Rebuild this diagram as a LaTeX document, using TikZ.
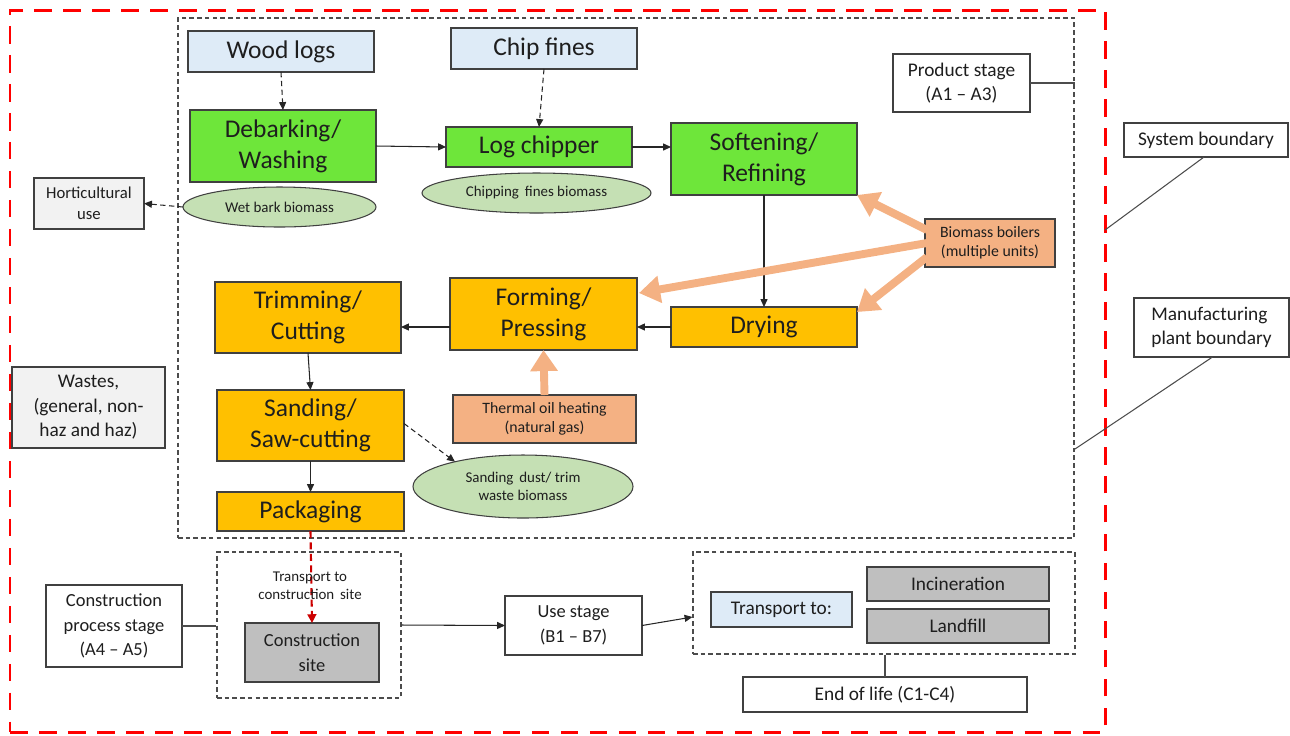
\documentclass[tikz,border=0pt]{standalone}
\usepackage{fontspec}
\setmainfont{Carlito}
\usetikzlibrary{arrows.meta,fit,shapes.geometric,calc}
\definecolor{lblue}{HTML}{DEEBF7}
\definecolor{pgreen}{HTML}{6EE63A}
\definecolor{porange}{HTML}{FFC000}
\definecolor{salmon}{HTML}{F4B183}
\definecolor{egreen}{HTML}{C5E0B4}
\definecolor{mgray}{HTML}{BFBFBF}
\definecolor{lgray}{HTML}{F2F2F2}
\definecolor{txt}{HTML}{1E1E1E}
% \pb{name}{x1}{y1}{x2}{y2}{style}{text}
\newcommand\pb[7]{\node[#6, minimum width={(#4-#2)*0.02cm}, minimum height={(#5-#3)*0.02cm}] (#1) at ({(#2+#4)/2},{(#3+#5)/2}) {#7};}
\begin{document}
\begin{tikzpicture}[x=0.02cm,y=-0.02cm,
  every node/.style={text=txt},
  box/.style={draw=black!75, line width=0.7pt, inner sep=0pt, outer sep=0pt, align=center},
  ell/.style={ellipse, draw=black!75, line width=0.6pt, fill=egreen, inner sep=0pt, outer sep=0pt, align=center, font=\fontsize{8.5}{10}\selectfont},
  big/.style={font=\fontsize{14.5}{17.5}\selectfont},
  med/.style={font=\fontsize{11}{14}\selectfont},
  sml/.style={font=\fontsize{9}{11}\selectfont},
  bot/.style={font=\fontsize{10.5}{14}\selectfont},
  dbox/.style={draw=black!70, line width=0.6pt, dash pattern=on 2.6pt off 1.8pt},
  conn/.style={draw=black!85, line width=0.6pt, -{Triangle[length=4.5pt,width=4pt]}},
  dconn/.style={conn, dash pattern=on 3pt off 2pt},
  plain/.style={draw=black!70, line width=0.6pt},
  heat/.style={draw=salmon, line width=4.5pt, -{Triangle[length=12pt,width=15pt]}}
]
\useasboundingbox (0,0) rectangle (1290,735);

% boundaries
\node[fit={(10,10)(1105,732)}, inner sep=0pt, draw=red, line width=1.7pt, dash pattern=on 10pt off 6.5pt] (redb) {};
\node[fit={(178,18)(1074,538)}, inner sep=0pt, dbox] (pbox) {};
\node[fit={(217,552)(401,698)}, inner sep=0pt, dbox] (cbox) {};
\node[fit={(693,552)(1075,654)}, inner sep=0pt, dbox] (ebox) {};

% top inputs
\pb{wood}{188}{31}{374}{72}{box, fill=lblue, big}{Wood logs}
\pb{chip}{451}{28}{637}{69}{box, fill=lblue, big}{Chip fines}

% green processes
\pb{deb}{190}{110}{376}{182}{box, fill=pgreen, big}{Debarking/\\Washing}
\pb{logc}{446}{127}{632}{167}{box, fill=pgreen, big}{Log chipper}
\pb{soft}{671}{123}{857}{195}{box, fill=pgreen, big}{Softening/\\Refining}

% ellipses
\pb{wet}{183}{187}{376}{227}{ell}{Wet bark biomass}
\pb{cfb}{422}{173}{651}{213}{ell}{Chipping\, fines biomass}
\pb{sdb}{413}{455}{633}{518}{ell}{Sanding\, dust/ trim\\waste biomass}

% side boxes
\pb{hort}{34}{178}{144}{229}{box, fill=lgray, font=\fontsize{9.5}{12}\selectfont}{Horticultural\\use}
\pb{waste}{12}{367}{165}{448}{box, fill=lgray, med}{Wastes,\\(general, non-\\haz and haz)}
\pb{boil}{925}{219}{1055}{267}{box, fill=salmon, sml}{Biomass boilers\\(multiple units)}

% orange processes
\pb{trim}{215}{282}{401}{353}{box, fill=porange, big}{Trimming/\\Cutting}
\pb{form}{450}{278}{637}{350}{box, fill=porange, big}{Forming/\\Pressing}
\pb{dry}{671}{307}{857}{347}{box, fill=porange, big}{Drying}
\pb{sand}{217}{390}{404}{461}{box, fill=porange, big}{Sanding/\\Saw-cutting}
\pb{pack}{217}{492}{404}{531}{box, fill=porange, big}{Packaging}
\pb{therm}{453}{395}{636}{443}{box, fill=salmon, sml}{Thermal oil heating\\(natural gas)}

% labels
\pb{ps}{893}{54}{1030}{112}{box, fill=white, med}{Product stage\\(A1 – A3)}
\pb{sb}{1124}{123}{1288}{157}{box, fill=white, med}{System boundary}
\pb{mp}{1134}{298}{1289}{357}{box, fill=white, med, align=left}{Manufacturing\\plant boundary}

% bottom
\pb{cps}{46}{585}{182}{667}{box, fill=white, bot}{Construction\\process stage\\(A4 – A5)}
\pb{csite}{245}{623}{379}{682}{box, fill=mgray, bot}{Construction\\site}
\pb{use}{505}{596}{642}{655}{box, fill=white, bot}{Use stage\\(B1 – B7)}
\pb{tr}{711}{592}{852}{627}{box, fill=lblue, med}{Transport to:}
\pb{inc}{867}{567}{1049}{601}{box, fill=mgray, med}{Incineration}
\pb{land}{867}{609}{1049}{643}{box, fill=mgray, med}{Landfill}
\pb{eol}{743}{677}{1027}{712}{box, fill=white, med}{End of life (C1-C4)}

% connectors
\draw[dconn] (wood.south) -- (deb.north);
\draw[dconn] (chip.south) -- (logc.north);
\draw[conn] (deb.east) -- (logc.west);
\draw[conn] (logc.east) -- (logc.east -| soft.west);
\draw[conn] (soft.south) -- (soft.south |- dry.north);
\draw[conn] (dry.west) -- (dry.west -| form.east);
\draw[conn] (dry.west -| form.west) -- (dry.west -| trim.east);
\draw[conn] (trim.south) -- (sand.north);
\draw[conn] (sand.south) -- (pack.north);
\draw[dconn] ($(sand.east)+(0,-2)$) -- (sdb.160);
\draw[dconn] (wet.west) -- (hort.east);

% heat arrows
\draw[heat] ($(boil.west)+(2,-13)$) -- (soft.south east);
\draw[heat] ($(boil.west)+(2,0)$) -- ($(form.east)+(2,-21)$);
\draw[heat] ($(boil.west)+(2,14)$) -- ($(dry.north east)+(0,5)$);
\draw[heat] (therm.north) -- (form.south);

% boundary label leaders
\draw[plain] (ps.east) -- (ps.east -| pbox.east);
\coordinate (sbend) at (1105,230);
\draw[plain] ($(sb.south)+(-2,0)$) -- (sbend);
\coordinate (mpend) at (1075,449);
\draw[plain] ($(mp.south)+(1,0)$) -- (mpend);

% bottom connectors
\draw[draw=red!80!black, line width=1.2pt, dash pattern=on 4pt off 2.5pt, -{Triangle[length=5pt,width=5pt]}] (pack.south) -- (csite.north);
\node[font=\fontsize{8.5}{10}\selectfont, align=center] (trlab) at (310,586) {Transport to\\construction\, site};
\draw[plain] (cps.east) -- (cps.east -| cbox.west);
\draw[conn] (cbox.east) -- (use.west);
\draw[conn] (use.east) -- ($(ebox.west)+(0,14)$);
\draw[plain] (ebox.south -| eol.north) -- (eol.north);
\end{tikzpicture}
\end{document}
